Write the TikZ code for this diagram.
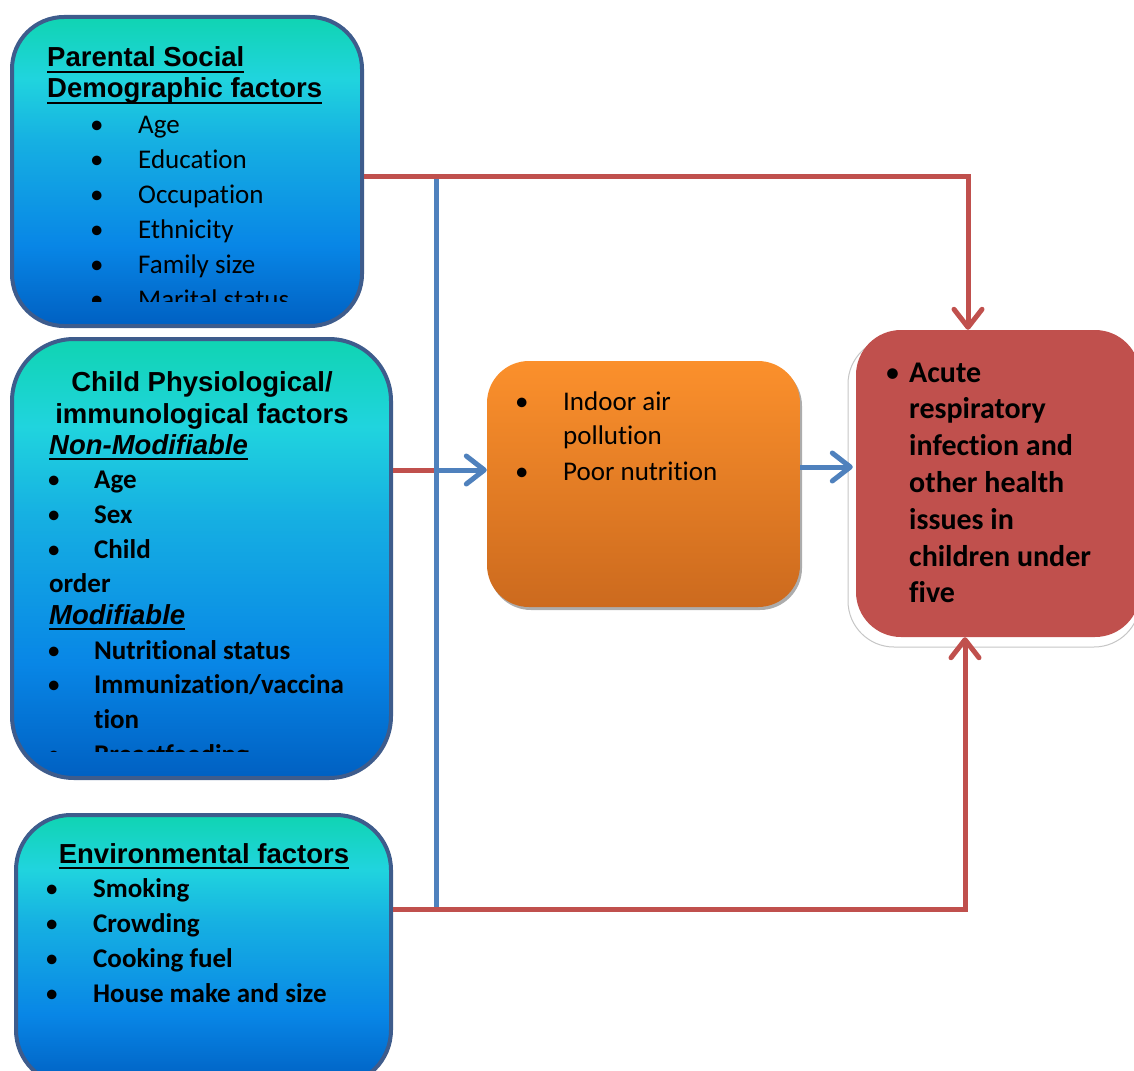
\documentclass[tikz,border=0pt]{standalone}
\usepackage{fontspec}
\setmainfont{Carlito}[Ligatures=NoCommon]
\newfontfamily\arialf{Liberation Sans}
\newfontfamily\calf{Carlito}[Ligatures=NoCommon]
\usetikzlibrary{arrows.meta}
\definecolor{edgeblue}{RGB}{62,92,140}
\definecolor{ga}{RGB}{16,212,178}
\definecolor{gb}{RGB}{32,212,222}
\definecolor{gc}{RGB}{22,176,226}
\definecolor{gd}{RGB}{8,134,230}
\definecolor{ge}{RGB}{0,96,194}
\definecolor{otop}{RGB}{251,144,44}
\definecolor{obot}{RGB}{204,106,30}
\definecolor{redbox}{RGB}{192,80,77}
\definecolor{redln}{RGB}{192,80,77}
\definecolor{blueln}{RGB}{79,129,189}
\pgfdeclareverticalshading{boxgrad}{100bp}{color(0bp)=(ge); color(25bp)=(ge); color(38bp)=(gd); color(55bp)=(gc); color(65bp)=(gb); color(75bp)=(ga); color(100bp)=(ga)}
\newcommand\myul[1]{\setbox0\hbox{#1}\rlap{\rule[-6pt]{\wd0}{2.3pt}}\box0}
\newcommand\bul[2]{\makebox[#1][l]{\calf\mdseries •}#2}
\tikzset{
  bluebox/.style={shape=rectangle, draw=edgeblue, line width=4pt, shading=boxgrad, inner sep=0pt},
  ttl/.style={anchor=base west, inner sep=0pt, font=\arialf\bfseries\fontsize{27.5}{32}\selectfont},
  ttlc/.style={anchor=base, inner sep=0pt, font=\arialf\bfseries\fontsize{27.5}{32}\selectfont},
  itm/.style={anchor=base west, inner sep=0pt, font=\calf\fontsize{27}{32}\selectfont},
  itmb/.style={anchor=base west, inner sep=0pt, font=\calf\bfseries\fontsize{27}{32}\selectfont},
  itmr/.style={anchor=base west, inner sep=0pt, font=\calf\bfseries\fontsize{30}{36}\selectfont},
  rline/.style={draw=redln, line width=5pt},
  bline/.style={draw=blueln, line width=5pt},
  tip/.style={-{Straight Barb[length=18pt,width=28pt,round]}}
}
\begin{document}
\begin{tikzpicture}[x=1pt,y=-1pt]
\useasboundingbox (0,0) rectangle (1134,1070);
\clip (0,0) rectangle (1134,1070);
% boxes
\node[bluebox, rounded corners=52pt, minimum width=350pt, minimum height=309pt] (p) at (187,171.5) {};
\node[bluebox, rounded corners=62pt, minimum width=379pt, minimum height=439pt] (c) at (201.5,558.5) {};
\node[bluebox, rounded corners=55pt, minimum width=375pt, minimum height=270pt] (e) at (203.5,950) {};
\node[shape=rectangle, rounded corners=42pt, fill=gray!65, minimum width=313pt, minimum height=246pt, inner sep=0pt] (os) at (645.5,487) {};
\node[shape=rectangle, rounded corners=42pt, top color=otop, bottom color=obot, minimum width=313pt, minimum height=246pt, inner sep=0pt] (o) at (643.5,484) {};
\node[shape=rectangle, rounded corners=46pt, fill=white, draw=gray!45, line width=1pt, minimum width=292pt, minimum height=309pt, inner sep=0pt] (rs) at (994,492.5) {};
\node[shape=rectangle, rounded corners=45pt, fill=redbox, minimum width=284pt, minimum height=307pt, inner sep=0pt] (r) at (998,483.5) {};
% box 1 text
\node[ttl] (p1) at (47,67) {\myul{Parental Social}};
\node[ttl] (p2) at (47,98) {\myul{Demographic factors}};
\begin{scope}
\clip (0,0) rectangle (400,301);
\node[itm] (p3) at (90,133) {\bul{48pt}{Age}};
\node[itm] (p4) at (90,168) {\bul{48pt}{Education}};
\node[itm] (p5) at (90,203) {\bul{48pt}{Occupation}};
\node[itm] (p6) at (90,238) {\bul{48pt}{Ethnicity}};
\node[itm] (p7) at (90,273) {\bul{48pt}{Family size}};
\node[itm] (p8) at (90,308) {\bul{48pt}{Marital status}};
\end{scope}
% box 2 text
\node[ttlc] (c1) at (202,391) {Child Physiological/};
\node[ttlc] (c2) at (202,423) {immunological factors};
\node[ttl] (c3) at (49,454) {\itshape\myul{Non-Modifiable}};
\begin{scope}
\clip (0,0) rectangle (400,751);
\node[itmb] (c4) at (47,488) {\bul{47pt}{Age}};
\node[itmb] (c5) at (47,523) {\bul{47pt}{Sex}};
\node[itmb] (c6) at (47,558) {\bul{47pt}{Child}};
\node[itmb] (c7) at (49,592) {order};
\node[ttl] (c8) at (49,624) {\itshape\myul{Modifiable}};
\node[itmb] (c9) at (47,659) {\bul{47pt}{Nutritional status}};
\node[itmb] (c10) at (47,693) {\bul{47pt}{Immunization/vaccina}};
\node[itmb] (c11) at (94,728) {tion};
\node[itmb] (c12) at (47,763) {\bul{47pt}{Breastfeeding}};
\end{scope}
% box 3 text
\node[ttlc] (e1) at (204,863) {\myul{Environmental factors}};
\node[itmb] (e2) at (45,897) {\bul{48pt}{Smoking}};
\node[itmb] (e3) at (45,932) {\bul{48pt}{Crowding}};
\node[itmb] (e4) at (45,967) {\bul{48pt}{Cooking fuel}};
\node[itmb] (e5) at (45,1002) {\bul{48pt}{House make and size}};
% orange text
\node[itm] (o1) at (515,410) {\bul{48pt}{Indoor air}};
\node[itm] (o2) at (563,444) {pollution};
\node[itm] (o3) at (515,480) {\bul{48pt}{Poor nutrition}};
% red text
\node[itmr] (r1) at (885,382) {\bul{24pt}{Acute}};
\node[itmr] (r2) at (909,418) {respiratory};
\node[itmr] (r3) at (909,455) {infection and};
\node[itmr] (r4) at (909,492) {other health};
\node[itmr] (r5) at (909,529) {issues in};
\node[itmr] (r6) at (909,566) {children under};
\node[itmr] (r7) at (909,602) {five};
% connectors
\coordinate (jt) at (436.5,176);
\coordinate (jm) at (436.5,470);
\coordinate (jb) at (436.5,912);
\coordinate (yr) at (0,467);
\coordinate (ye) at (0,909);
\draw[bline] (jt) -- (jb);
\draw[rline, tip] (p.east |- jt) -| ([xshift=-30pt]r.north);
\draw[rline] (c.east |- jm) -- ([xshift=-3pt]jm);
\draw[bline, tip] (jm) -- (o.west |- jm);
\draw[bline, tip] (o.east |- yr) -- ([xshift=-3pt]r.west |- yr);
\draw[rline, tip] (e.east |- ye) -| ([xshift=-33pt]r.south);
\end{tikzpicture}
\end{document}
